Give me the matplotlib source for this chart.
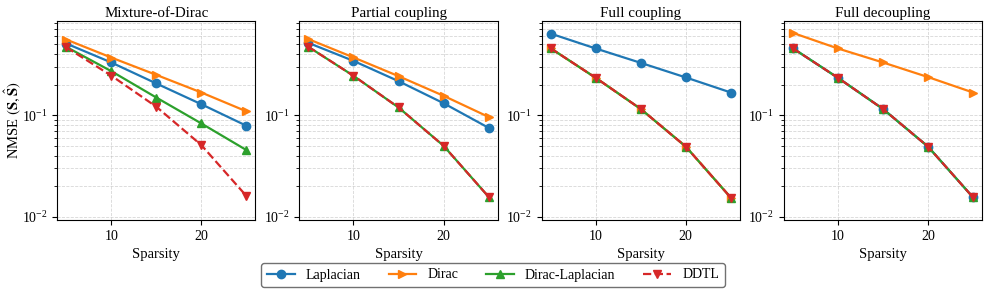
import matplotlib
matplotlib.use("Agg")
import matplotlib.pyplot as plt

plt.rcParams['font.family'] = ['Liberation Serif', 'DejaVu Serif']
plt.rcParams['mathtext.fontset'] = 'stix'
plt.rcParams['font.size'] = 10

sparsity = [5, 10, 15, 20, 25]

titles = ["Mixture-of-Dirac", "Partial coupling", "Full coupling", "Full decoupling"]

# NMSE per panel
laplacian = [
    [0.507, 0.330, 0.205, 0.128, 0.0786],
    [0.514, 0.342, 0.216, 0.131, 0.075],
    [0.635, 0.453, 0.327, 0.235, 0.167],
    [0.455, 0.233, 0.115, 0.049, 0.0155],
]
dirac = [
    [0.555, 0.369, 0.249, 0.167, 0.109],
    [0.560, 0.370, 0.242, 0.155, 0.096],
    [0.455, 0.233, 0.115, 0.049, 0.0154],
    [0.645, 0.453, 0.330, 0.237, 0.167],
]
dirac_laplacian = [
    [0.470, 0.271, 0.149, 0.0828, 0.0453],
    [0.470, 0.244, 0.119, 0.0499, 0.0157],
    [0.455, 0.233, 0.115, 0.049, 0.0154],
    [0.455, 0.233, 0.115, 0.049, 0.0155],
]
ddtl = [
    [0.465, 0.245, 0.121, 0.0507, 0.0160],
    [0.470, 0.244, 0.119, 0.0499, 0.0157],
    [0.455, 0.233, 0.115, 0.049, 0.0154],
    [0.455, 0.233, 0.115, 0.049, 0.0155],
]

fig, axes = plt.subplots(1, 4, figsize=(9.86, 2.94), dpi=100)
fig.subplots_adjust(left=0.058, right=0.996, top=0.929, bottom=0.252, wspace=0.222)

for i, ax in enumerate(axes):
    ax.plot(sparsity, laplacian[i], '-o', color='tab:blue', lw=1.6, ms=6, label='Laplacian')
    ax.plot(sparsity, dirac[i], '->', color='tab:orange', lw=1.6, ms=6, label='Dirac')
    ax.plot(sparsity, dirac_laplacian[i], '-^', color='tab:green', lw=1.6, ms=6, label='Dirac-Laplacian')
    ax.plot(sparsity, ddtl[i], '--v', color='tab:red', lw=1.6, ms=6, label='DDTL')
    ax.set_yscale('log')
    ax.set_ylim(0.0093, 0.847)
    ax.set_xlim(4, 26)
    ax.set_xticks([10, 20])
    ax.grid(True, which='both', ls='--', lw=0.6, alpha=0.5)
    ax.set_title(titles[i], pad=3, fontsize=10.8)
    ax.set_xlabel('Sparsity', fontsize=10.5)

axes[0].set_ylabel(r'NMSE $(\mathbf{S},\hat{\mathbf{S}})$', fontsize=10.5)
axes[0].yaxis.set_label_coords(-0.17, 0.5)

handles, labels = axes[0].get_legend_handles_labels()
fig.legend(handles, labels, loc='lower center', bbox_to_anchor=(0.5, 0.0), ncol=4,
           edgecolor='0.3', columnspacing=2.0, handlelength=2.0)

fig.savefig('out.png', dpi=100)
